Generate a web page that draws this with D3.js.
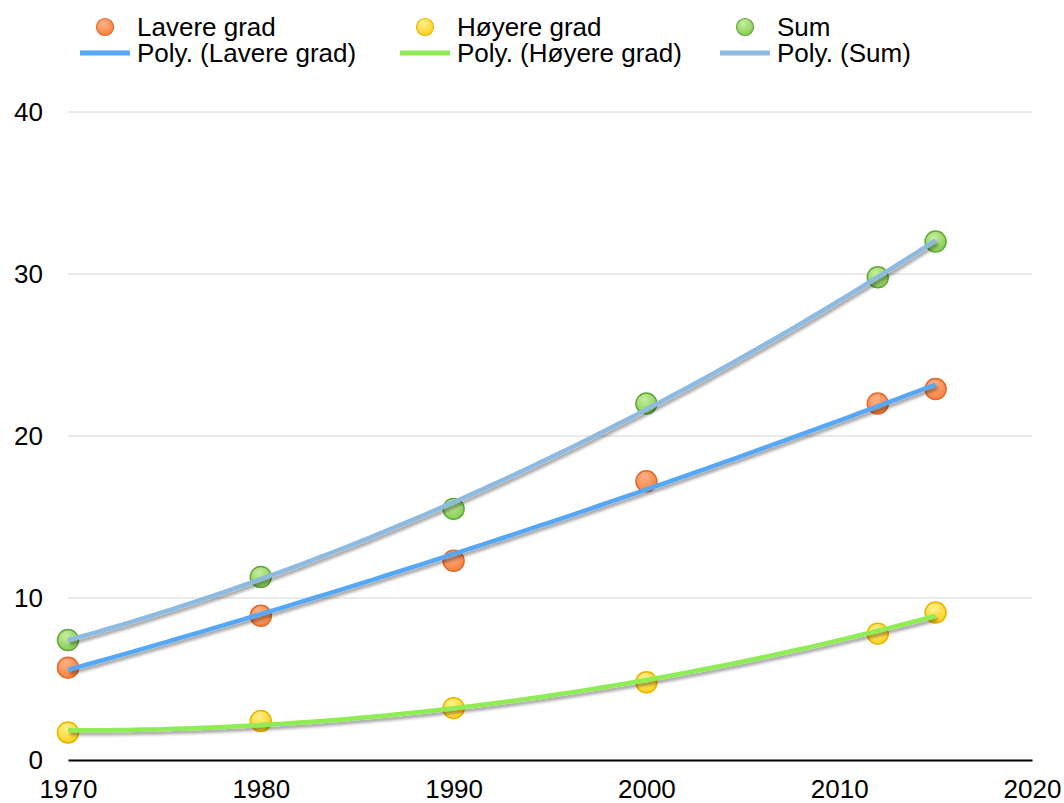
<!DOCTYPE html>
<html>
<head>
<meta charset="utf-8">
<script src="https://cdn.jsdelivr.net/npm/d3@7"></script>
<style>
  body { margin: 0; background: #fff; }
  text { font-family: "Liberation Sans", Arial, sans-serif; fill: #000; }
</style>
</head>
<body>
<svg id="chart" width="1064" height="803"></svg>
<script>
var width = 1064;
var height = 803;

// data
var years = [1970, 1980, 1990, 2000, 2012, 2015];
var lavere = [5.7, 8.9, 12.3, 17.2, 22.0, 22.9];
var hoyere = [1.7, 2.4, 3.2, 4.8, 7.8, 9.1];
var sum = [7.4, 11.3, 15.5, 22.0, 29.8, 32.0];

var xTicks = [1970, 1980, 1990, 2000, 2010, 2020];
var yTicks = [0, 10, 20, 30, 40];

var seriesNames = ["Lavere grad", "Høyere grad", "Sum"];
var trendNames = ["Poly. (Lavere grad)", "Poly. (Høyere grad)", "Poly. (Sum)"];

var markerFill = ["#f7823f", "#ffd21f", "#86cc55"];
var markerLight = ["#ffb089", "#fff08a", "#c6ee9f"];
var markerStroke = ["#e06a2a", "#e8b400", "#62a83c"];
var trendColors = ["#56a8f7", "#8eec55", "#8cbae0"];

var fontSize = "26px";

var svg = d3.select("#chart");

var x = d3.scaleLinear().domain([1970, 2020]).range([68, 1032]);
var y = d3.scaleLinear().domain([0, 40]).range([760, 112]);

/*====================================================================
       polyFit()
       least squares 2nd order fit, like the spreadsheet trendline
    ==================================================================*/
function polyFit(xs, ys) {
    var n = xs.length;
    var s = [0, 0, 0, 0, 0], t = [0, 0, 0];
    for (var i = 0; i < n; i++) {
        var u = xs[i] - 1970;
        for (var k = 0; k < 5; k++) s[k] += Math.pow(u, k);
        for (var k = 0; k < 3; k++) t[k] += ys[i] * Math.pow(u, k);
    }
    var m = [[s[0], s[1], s[2], t[0]], [s[1], s[2], s[3], t[1]], [s[2], s[3], s[4], t[2]]];
    for (var c = 0; c < 3; c++) {
        for (var r = c + 1; r < 3; r++) {
            var f = m[r][c] / m[c][c];
            for (var j = c; j < 4; j++) m[r][j] -= f * m[c][j];
        }
    }
    var coef = [0, 0, 0];
    for (var r = 2; r >= 0; r--) {
        var v = m[r][3];
        for (var j = r + 1; j < 3; j++) v -= m[r][j] * coef[j];
        coef[r] = v / m[r][r];
    }
    return function (yr) {
        var u = yr - 1970;
        return coef[0] + coef[1] * u + coef[2] * u * u;
    };
}

// defs: gradients + shadow
var defs = svg.append("defs");
markerFill.forEach(function (col, i) {
    var g = defs.append("radialGradient")
        .attr("id", "grad" + i)
        .attr("cx", "40%").attr("cy", "30%").attr("r", "70%");
    g.append("stop").attr("offset", "0%").attr("stop-color", markerLight[i]);
    g.append("stop").attr("offset", "100%").attr("stop-color", col);
});
var shadow = defs.append("filter").attr("id", "shadow")
    .attr("x", "-5%").attr("y", "-20%").attr("width", "110%").attr("height", "140%");
shadow.append("feGaussianBlur").attr("in", "SourceAlpha").attr("stdDeviation", 1.5).attr("result", "b");
shadow.append("feOffset").attr("in", "b").attr("dx", 2).attr("dy", 3).attr("result", "o");
shadow.append("feComponentTransfer").attr("in", "o").attr("result", "s")
    .append("feFuncA").attr("type", "linear").attr("slope", 0.35);
var merge = shadow.append("feMerge");
merge.append("feMergeNode").attr("in", "s");
merge.append("feMergeNode").attr("in", "SourceGraphic");

// gridlines
svg.append("g").selectAll("line")
    .data(yTicks.filter(function (d) { return d > 0; }))
    .enter().append("line")
    .attr("x1", x(1970)).attr("x2", x(2020))
    .attr("y1", function (d) { return y(d); })
    .attr("y2", function (d) { return y(d); })
    .attr("stroke", "#d4d4d4").attr("stroke-width", 1);

// axes
var xAxis = svg.append("g")
    .attr("transform", "translate(0," + y(0) + ")")
    .call(d3.axisBottom(x).tickValues(xTicks).tickFormat(d3.format("d")).tickSize(0).tickPadding(20));
xAxis.attr("font-size", null).attr("font-family", null);
xAxis.select(".domain").attr("stroke", "#000").attr("stroke-width", 2);
xAxis.selectAll("text").style("font-size", fontSize).attr("fill", "#000");

var yAxis = svg.append("g")
    .attr("transform", "translate(43,0)")
    .call(d3.axisLeft(y).tickValues(yTicks).tickSize(0).tickPadding(0));
yAxis.attr("font-size", null).attr("font-family", null);
yAxis.select(".domain").remove();
yAxis.selectAll("text").style("font-size", fontSize).attr("fill", "#000");

// series
var allSeries = [lavere, hoyere, sum];
var drawOrder = [0, 1, 2];

// markers first, trendlines on top
drawOrder.forEach(function (i) {
    svg.append("g").selectAll("circle")
        .data(years.map(function (yr, j) { return [yr, allSeries[i][j]]; }))
        .enter().append("circle")
        .attr("cx", function (d) { return x(d[0]); })
        .attr("cy", function (d) { return y(d[1]); })
        .attr("r", 10.5)
        .attr("fill", "url(#grad" + i + ")")
        .attr("stroke", markerStroke[i])
        .attr("stroke-width", 1.5);
});

var line = d3.line()
    .x(function (d) { return x(d[0]); })
    .y(function (d) { return y(d[1]); });

drawOrder.forEach(function (i) {
    var fit = polyFit(years, allSeries[i]);
    var pts = d3.range(1970, 2015.01, 0.5).map(function (yr) { return [yr, fit(yr)]; });
    svg.append("path")
        .datum(pts)
        .attr("d", line)
        .attr("fill", "none")
        .attr("stroke", trendColors[i])
        .attr("stroke-width", 4.5)
        .attr("filter", "url(#shadow)");
});

// legend
var legendX = [80, 400, 720];
seriesNames.forEach(function (name, i) {
    var g = svg.append("g").attr("transform", "translate(" + legendX[i] + ",0)");
    g.append("circle")
        .attr("cx", 25).attr("cy", 27).attr("r", 8.5)
        .attr("fill", "url(#grad" + i + ")")
        .attr("stroke", markerStroke[i]).attr("stroke-width", 1.2);
    g.append("text").attr("x", 57).attr("y", 36).style("font-size", fontSize).text(name);
    g.append("line")
        .attr("x1", 0).attr("x2", 50).attr("y1", 53).attr("y2", 53)
        .attr("stroke", trendColors[i]).attr("stroke-width", 5);
    g.append("text").attr("x", 57).attr("y", 62).style("font-size", fontSize).text(trendNames[i]);
});
</script>
</body>
</html>
